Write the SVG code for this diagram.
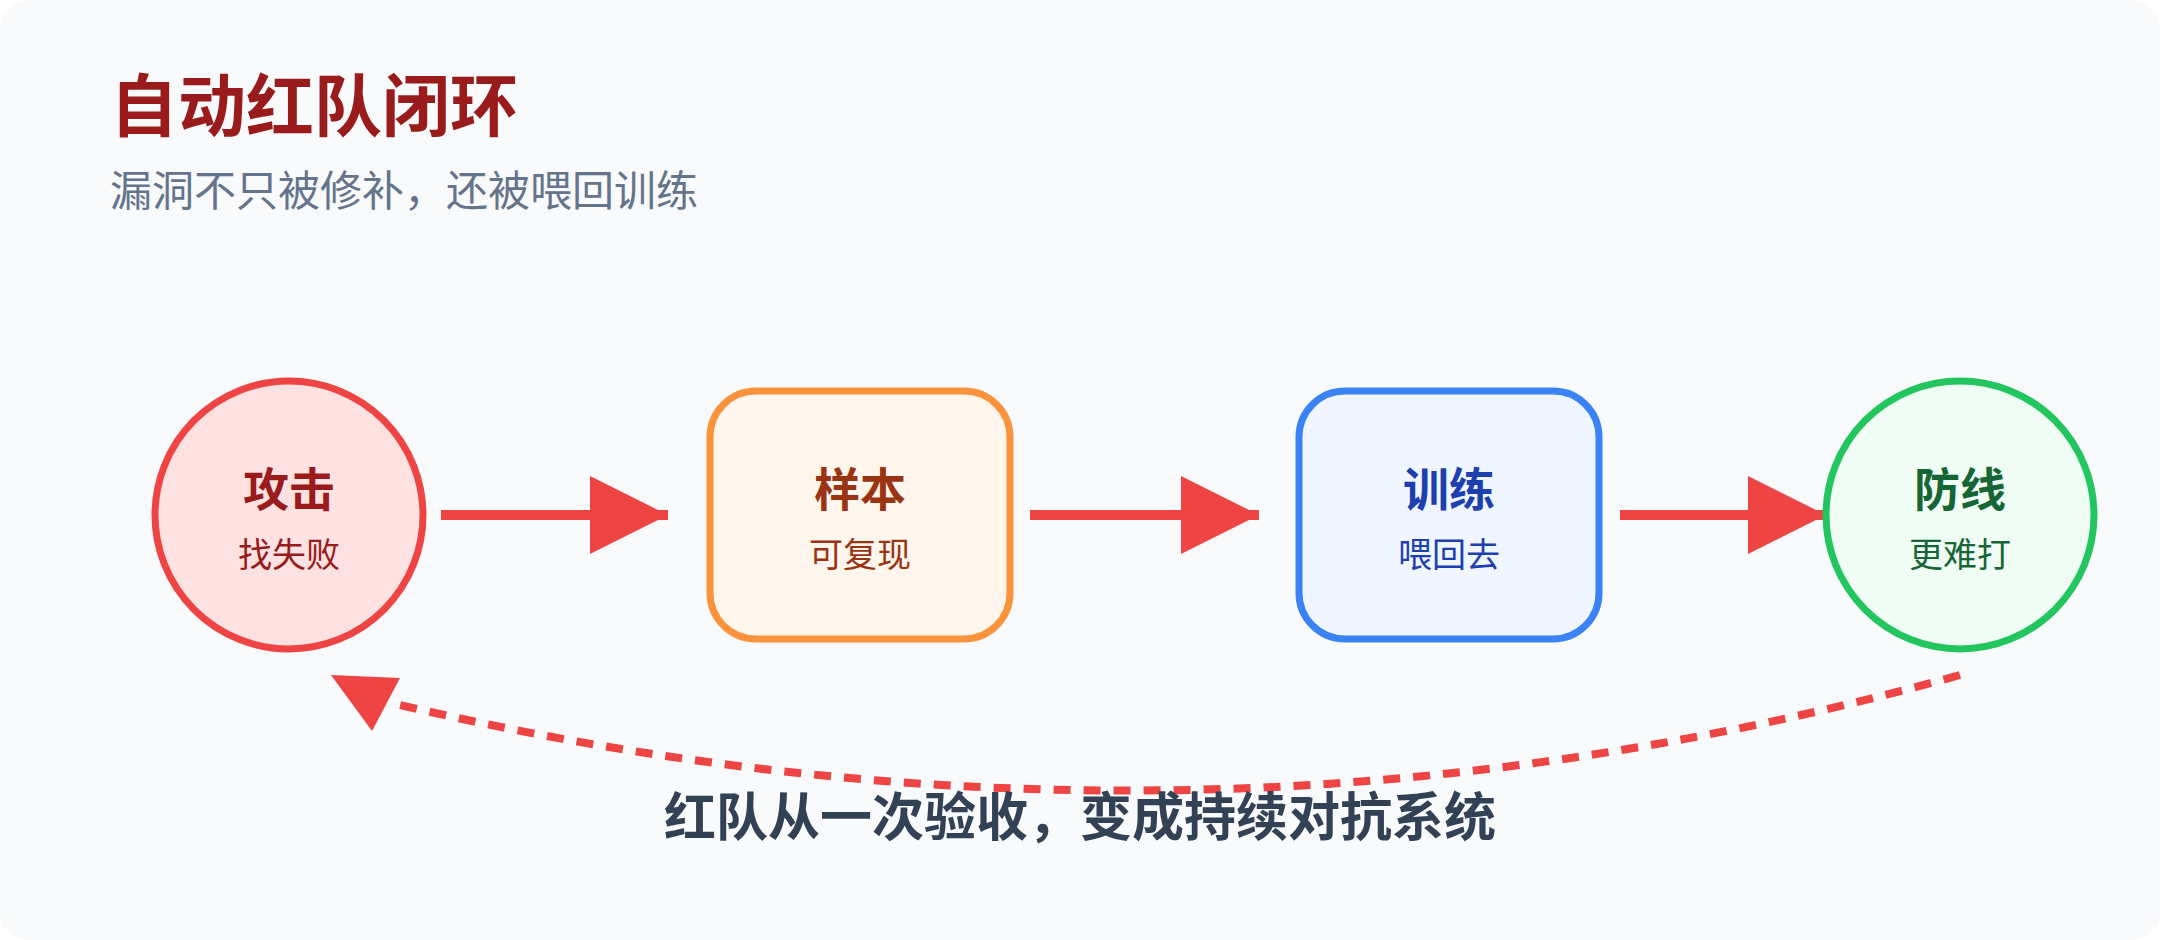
<svg xmlns="http://www.w3.org/2000/svg" width="2160" height="940" viewBox="0 0 2160 940">
<style>
text{font-family:"Noto Sans CJK SC","Noto Sans",sans-serif;text-anchor:middle}
.lb{font-size:46px;font-weight:700}
.sl{font-size:34px}
.ln{stroke:#ef4444;stroke-width:10;fill:none}
</style>
<defs>
<marker id="ah" markerUnits="userSpaceOnUse" markerWidth="80" markerHeight="80" refX="78" refY="40" orient="auto" viewBox="0 0 80 80">
<path d="M0,1 L78,40 L0,79 Z" fill="#ef4444"/>
</marker>
</defs>
<rect x="0" y="0" width="2160" height="940" rx="28" fill="#f8fafc"/>
<text x="110" y="131" style="font-size:68px;font-weight:700;text-anchor:start" fill="#991b1b">自动红队闭环</text>
<text x="110" y="206" style="font-size:42px;text-anchor:start" fill="#64748b">漏洞不只被修补，还被喂回训练</text>
<g id="connectors">
<line class="ln" x1="441" y1="515" x2="668" y2="515" marker-end="url(#ah)"/>
<line class="ln" x1="1030" y1="515" x2="1259" y2="515" marker-end="url(#ah)"/>
<line class="ln" x1="1620" y1="515" x2="1826" y2="515" marker-end="url(#ah)"/>
<path d="M1960,675 Q1190,890 400,705" fill="none" stroke="#ef4444" stroke-width="8" stroke-dasharray="17,13"/>
<polygon points="331,675 400,678 372,731" fill="#ef4444"/>
</g>
<g id="attack">
<circle cx="289" cy="515" r="134" fill="#fee2e2" stroke="#ef4444" stroke-width="7"/>
<text class="lb" x="289" y="506" fill="#991b1b">攻击</text>
<text class="sl" x="289" y="567" fill="#991b1b">找失败</text>
</g>
<g id="sample">
<rect x="710" y="391" width="300" height="248" rx="46" fill="#fff7ed" stroke="#fb923c" stroke-width="7"/>
<text class="lb" x="860" y="506" fill="#9a3412">样本</text>
<text class="sl" x="860" y="567" fill="#9a3412">可复现</text>
</g>
<g id="train">
<rect x="1299" y="391" width="300" height="248" rx="46" fill="#eff6ff" stroke="#3b82f6" stroke-width="7"/>
<text class="lb" x="1449" y="506" fill="#1e40af">训练</text>
<text class="sl" x="1449" y="567" fill="#1e40af">喂回去</text>
</g>
<g id="defense">
<circle cx="1960" cy="515" r="134" fill="#f0fdf4" stroke="#22c55e" stroke-width="7"/>
<text class="lb" x="1960" y="506" fill="#166534">防线</text>
<text class="sl" x="1960" y="567" fill="#166534">更难打</text>
</g>
<text x="1080" y="836" style="font-size:52px;font-weight:700" fill="#334155">红队从一次验收，变成持续对抗系统</text>
</svg>
